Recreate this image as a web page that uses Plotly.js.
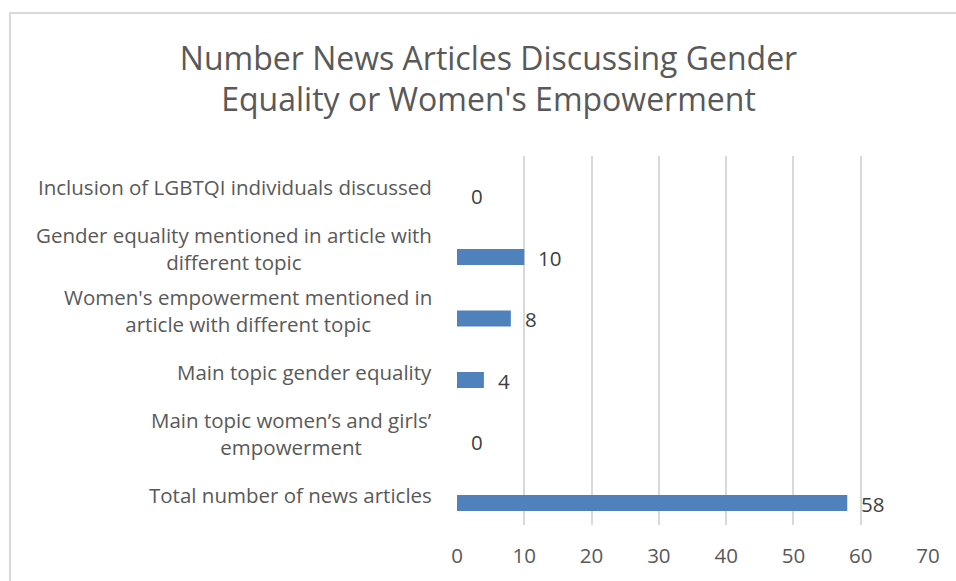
<!DOCTYPE html>
<html>
<head>
<meta charset="utf-8">
<script src="https://cdn.plot.ly/plotly-3.0.1.min.js"></script>
<style>
  html, body { margin: 0; padding: 0; background: #ffffff; overflow: hidden; }
  #frame { position: absolute; left: 9px; top: 12px; width: 1200px; height: 1200px; border: 2px solid #d9d9d9; box-sizing: border-box; }
  #chart { position: absolute; left: 0; top: 0; width: 956px; height: 581px; }
</style>
</head>
<body>
<div id="frame"></div>
<div id="chart"></div>
<script>
// Categories listed bottom to top
const categories = [
  "Total number of news articles",
  "Main topic women\u2019s and girls\u2019<br>empowerment",
  "Main topic gender equality",
  "Women's empowerment mentioned in<br>article with different topic",
  "Gender equality mentioned in article with<br>different topic",
  "Inclusion of LGBTQI individuals discussed"
];
const counts = [58, 0, 4, 8, 10, 0];
const xTicks = [0, 10, 20, 30, 40, 50, 60, 70];

const FONT = "Open Sans, Noto Sans, Arial, sans-serif";
const catKeys = categories.map((c, i) => "c" + i);

const annotations = [];
categories.forEach((c, i) => {
  annotations.push({
    xref: "paper", yref: "y", x: 0, y: catKeys[i],
    xanchor: "right", yanchor: "middle", xshift: -23, yshift: 8,
    text: c, align: "center", showarrow: false,
    font: { family: FONT, size: 20.5, color: "#595959" }
  });
});
counts.forEach((v, i) => {
  annotations.push({
    xref: "x", yref: "y", x: v, y: catKeys[i],
    xanchor: "left", yanchor: "middle", xshift: 12, yshift: -1,
    text: String(v), showarrow: false,
    font: { family: FONT, size: 20.5, color: "#404040" }
  });
});

const data = [{
  type: "bar",
  orientation: "h",
  x: counts,
  y: catKeys,
  width: 0.26,
  marker: { color: "#4f81bd" },
  hoverinfo: "x"
}];

const layout = {
  width: 956, height: 581,
  margin: { l: 457, r: 28, t: 156, b: 56, pad: 0 },
  paper_bgcolor: "rgba(0,0,0,0)",
  plot_bgcolor: "rgba(0,0,0,0)",
  showlegend: false,
  title: {
    text: "Number News Articles Discussing Gender<br>Equality or Women's Empowerment",
    font: { family: FONT, size: 32, color: "#595959" },
    x: 0.511, xanchor: "center", y: 0.88, yanchor: "middle"
  },
  xaxis: {
    range: [0, 70],
    tickvals: xTicks,
    ticktext: xTicks.map(String),
    showgrid: true, gridcolor: "#d9d9d9", gridwidth: 2,
    zeroline: false, showline: false,
    ticks: "", ticklabelstandoff: 16,
    tickfont: { family: FONT, size: 20.5, color: "#595959" },
    fixedrange: true
  },
  yaxis: {
    type: "category",
    categoryorder: "array", categoryarray: catKeys,
    range: [-0.358, 5.642],
    showticklabels: false, showgrid: false, zeroline: false, showline: false,
    ticks: "", fixedrange: true
  },
  annotations: annotations
};

Plotly.newPlot("chart", data, layout, { displayModeBar: false, staticPlot: true });
</script>
</body>
</html>
